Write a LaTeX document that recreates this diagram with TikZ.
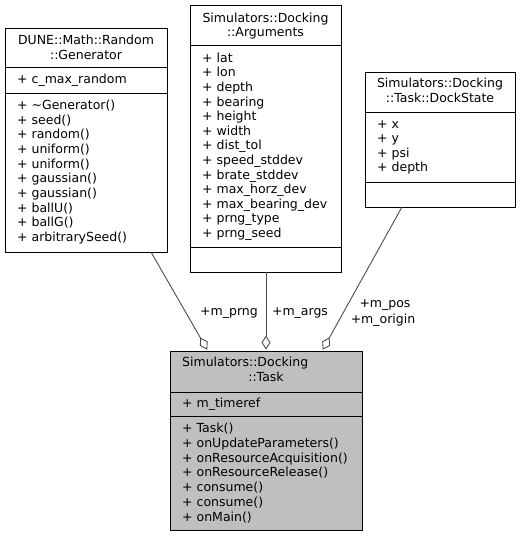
\documentclass[tikz,border=0pt]{standalone}
\usepackage{fontspec}
\setmainfont{DejaVu Sans}
\usetikzlibrary{arrows.meta}
\definecolor{grey25}{gray}{0.3}
\definecolor{grey75}{gray}{0.75}
\newcommand\mylines[5]{\foreach \t [count=\i from 0] in {#5} \node[txt] (#1-\i) at ({#2},{#3+\i*#4}) {\t};}
\begin{document}
\begin{tikzpicture}[x=1pt,y=-1pt,
  cls/.style={draw=black, line width=0.9pt, inner sep=0pt, outer sep=0pt, anchor=north west},
  txt/.style={anchor=base west, inner sep=0pt, font=\fontsize{12.5}{14}\selectfont},
  ttl/.style={anchor=base, inner sep=0pt, font=\fontsize{12.5}{14}\selectfont},
  lbl/.style={anchor=base, inner sep=0pt, font=\fontsize{12.5}{14}\selectfont, text=black},
  rel/.style={draw=grey25, line width=0.9pt, shorten >=1.5pt, -{Diamond[open, length=14pt, width=9pt, line width=0.9pt]}}]
\useasboundingbox (0,0) rectangle (521,536);

% Generator
\node[cls, minimum width=162pt, minimum height=224pt] (gen) at (5,28) {};
\draw[line width=0.9pt] (gen.west |- 0,67.5) -- (gen.east |- 0,67.5);
\draw[line width=0.9pt] (gen.west |- 0,93) -- (gen.east |- 0,93);
\node[ttl] (gen-t1) at (86,44.5) {DUNE::Math::Random};
\node[ttl] (gen-t2) at (86,59.5) {::Generator};
\node[txt] (gen-a) at (17,83.5) {+ c\_max\_random};
\mylines{genm}{17}{109.5}{14.67}{+ \textasciitilde Generator(), + seed(), + random(), + uniform(), + uniform(), + gaussian(), + gaussian(), + ballU(), + ballG(), + arbitrarySeed()}

% Arguments
\node[cls, minimum width=151pt, minimum height=267pt] (args) at (190,5) {};
\draw[line width=0.9pt] (args.west |- 0,45.7) -- (args.east |- 0,45.7);
\draw[line width=0.9pt] (args.west |- 0,247) -- (args.east |- 0,247);
\node[ttl] (args-t1) at (265.5,22.8) {Simulators::Docking};
\node[ttl] (args-t2) at (265.5,36.8) {::Arguments};
\mylines{argsa}{202}{62.2}{14.6}{+ lat, + lon, + depth, + bearing, + height, + width, + dist\_tol, + speed\_stddev, + brate\_stddev, + max\_horz\_dev, + max\_bearing\_dev, + prng\_type, + prng\_seed}

% DockState
\node[cls, minimum width=150pt, minimum height=135pt] (dock) at (365,72) {};
\draw[line width=0.9pt] (dock.west |- 0,112) -- (dock.east |- 0,112);
\draw[line width=0.9pt] (dock.west |- 0,182) -- (dock.east |- 0,182);
\node[ttl] (dock-t1) at (440,87.5) {Simulators::Docking};
\node[ttl] (dock-t2) at (440,102.5) {::Task::DockState};
\mylines{docka}{377}{128.5}{14.4}{+ x, + y, + psi, + depth}

% Task
\node[cls, fill=grey75, minimum width=192pt, minimum height=179pt] (task) at (170,351) {};
\draw[line width=0.9pt] (task.west |- 0,392) -- (task.east |- 0,392);
\draw[line width=0.9pt] (task.west |- 0,416) -- (task.east |- 0,416);
\node[txt] (task-t1) at (182,366.5) {Simulators::Docking};
\node[ttl] (task-t2) at (266,381.5) {::Task};
\node[txt] (task-a) at (182,407.5) {+ m\_timeref};
\mylines{taskm}{182}{432.5}{14.83}{+ Task(), + onUpdateParameters(), + onResourceAcquisition(), + onResourceRelease(), + consume(), + consume(), + onMain()}

% connectors
\draw[rel] (151,0 |- gen.south) -- (208,0 |- task.north);
\draw[rel] (266,0 |- args.south) -- (266,0 |- task.north);
\draw[rel] (402,0 |- dock.south) -- (322,0 |- task.north);

% labels
\node[lbl] (l-prng) at (229,315.5) {+m\_prng};
\node[lbl] (l-args) at (300,315.5) {+m\_args};
\node[lbl] (l-pos) at (385,307.5) {+m\_pos};
\node[lbl] (l-orig) at (383,323.5) {+m\_origin};
\end{tikzpicture}
\end{document}
